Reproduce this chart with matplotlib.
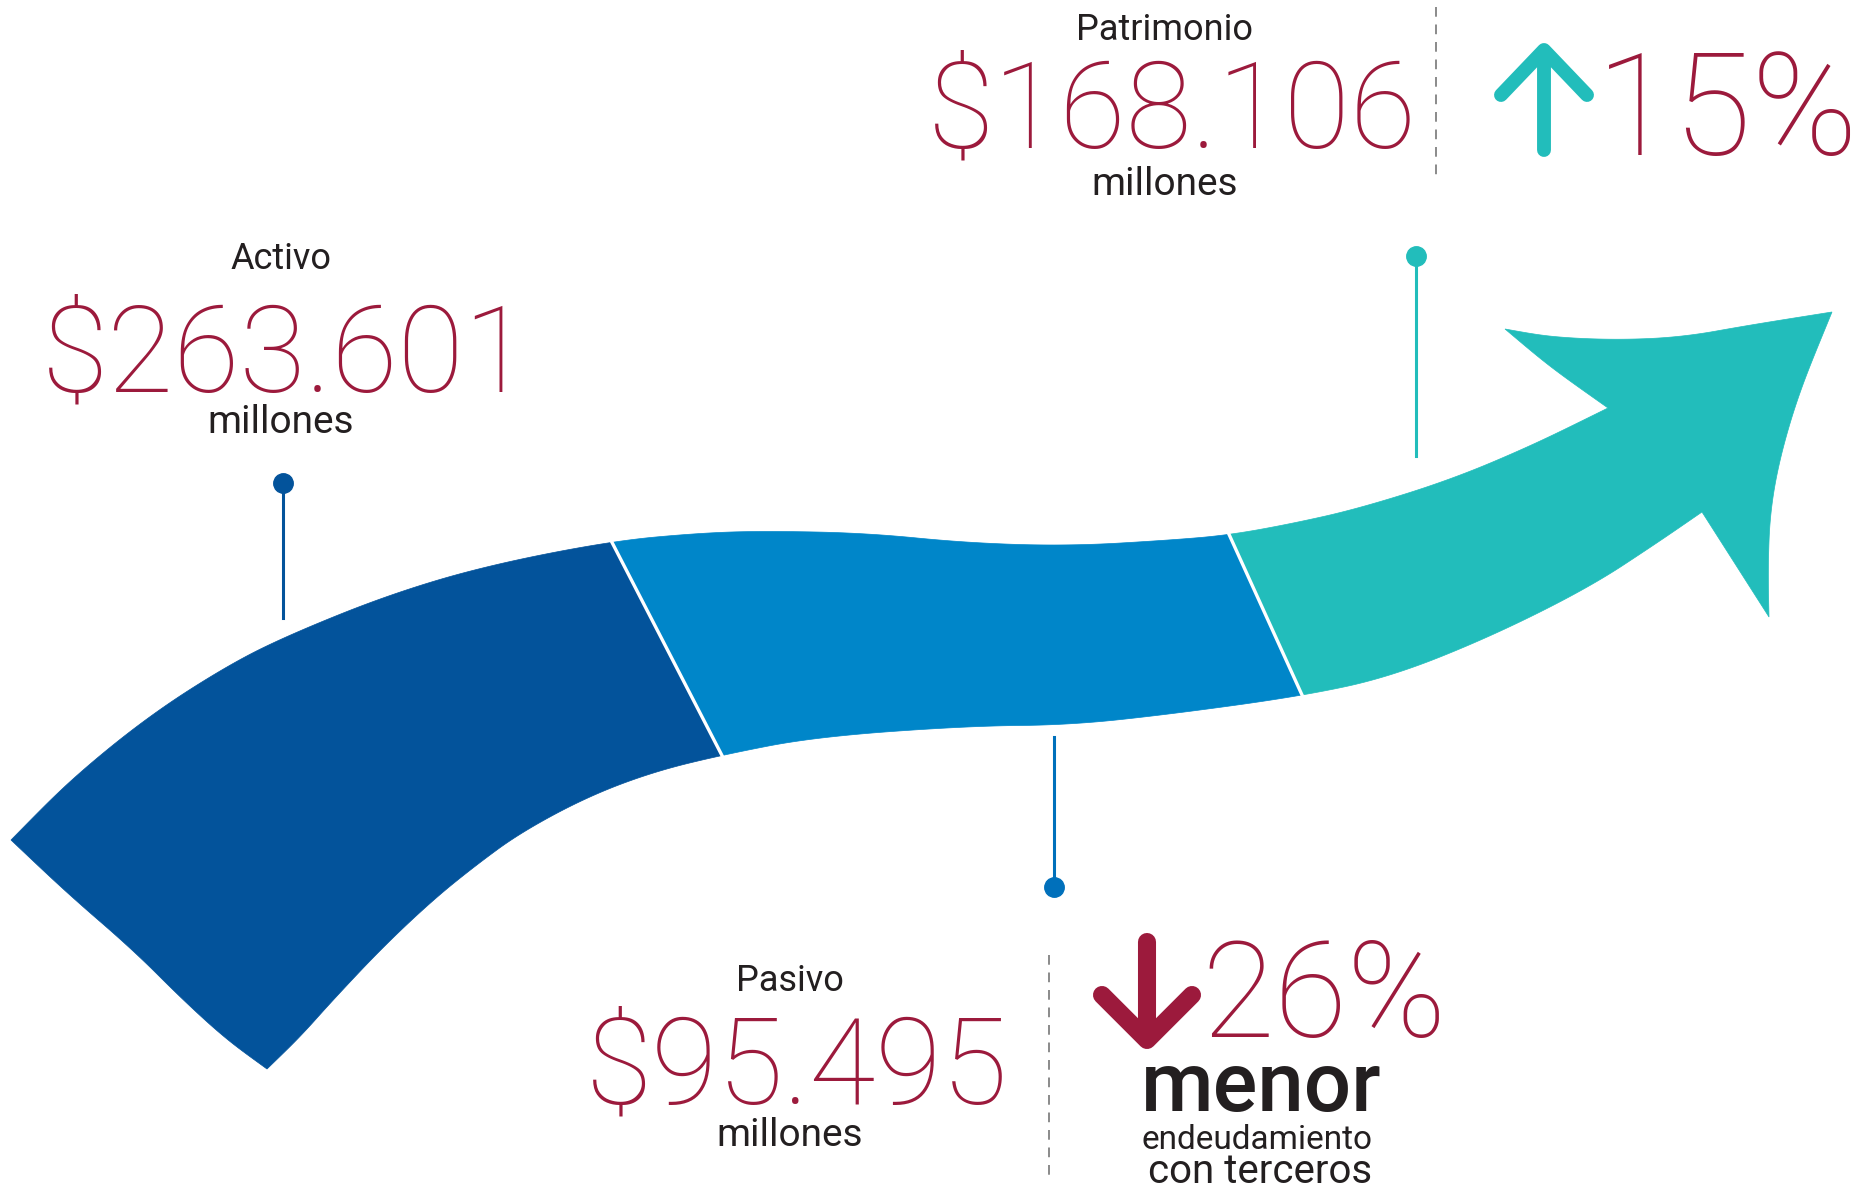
import numpy as np
import matplotlib
matplotlib.use("Agg")
import matplotlib.pyplot as plt
from matplotlib.patches import Polygon

# --- datos ---
etiquetas = ["Activo", "Pasivo", "Patrimonio"]
montos = ["$263.601", "$95.495", "$168.106"]
unidad = "millones"
variaciones = ["15%", "26%"]
nota_pasivo = ["menor", "endeudamiento", "con terceros"]

AZUL_OSC = "#03539b"
AZUL = "#0086c9"
TEAL = "#22bdbb"
VINO = "#9c1a3c"
TEXTO = "#231f20"
GRIS = "#8a8a8a"

W, H = 1873, 1191

# contorno de la cinta (pixeles de la imagen)
borde_sup = [(11, 840), (70, 780), (150, 715), (230, 664), (291, 634), (388, 595), (485, 566),
             (612, 541), (700, 533), (764, 531), (866, 533), (968, 543), (1070, 546),
             (1172, 540), (1229, 535), (1290, 524), (1357, 509), (1450, 480), (1533, 445),
             (1608, 408)]
borde_inf = [(267, 1069), (300, 1037), (333, 1000), (383, 947), (433, 900), (475, 866),
             (520, 833), (587, 797), (653, 772), (722, 755), (815, 737), (968, 726),
             (1070, 725), (1172, 714), (1302, 696), (1390, 677), (1490, 637), (1590, 587),
             (1657, 543), (1702, 512)]
tapa = [(267, 1069), (227, 1040), (183, 1000), (133, 950), (67, 893), (11, 840)]
punta = [(1608, 408), (1550, 367), (1505, 329)]
punta_sup = [(1505, 329), (1550, 337), (1617, 340), (1683, 337), (1750, 325), (1832, 312)]
punta_der = [(1832, 312), (1800, 390), (1780, 457), (1770, 513), (1768, 570), (1769, 617)]
cortes = [(612, 722), (1229, 1302)]   # x del corte arriba / abajo


def suave(pts, it=5):
    p = np.asarray(pts, float)
    for _ in range(it):
        q = 0.75 * p[:-1] + 0.25 * p[1:]
        r = 0.25 * p[:-1] + 0.75 * p[1:]
        nuevo = np.empty((2 * len(q), 2))
        nuevo[0::2], nuevo[1::2] = q, r
        p = np.vstack([p[:1], nuevo[1:-1], p[-1:]])
    return p


def tramo(c, x0, x1):
    m = (c[:, 0] > x0) & (c[:, 0] < x1)
    ini = [[x0, np.interp(x0, c[:, 0], c[:, 1])]] if x0 > c[0, 0] else [c[0]]
    fin = [[x1, np.interp(x1, c[:, 0], c[:, 1])]] if x1 < c[-1, 0] else [c[-1]]
    return np.vstack([ini, c[m], fin])


fig = plt.figure(figsize=(W / 100, H / 100), dpi=100)
ax = fig.add_axes([0, 0, 1, 1])
ax.set_xlim(0, W)
ax.set_ylim(H, 0)
ax.axis("off")

sup = suave(borde_sup)
inf = suave(borde_inf)
(a1, b1), (a2, b2) = cortes

tramo1 = np.vstack([tramo(sup, 0, a1), tramo(inf, 0, b1)[::-1], suave(tapa)])
tramo2 = np.vstack([tramo(sup, a1, a2), tramo(inf, b1, b2)[::-1]])
tramo3 = np.vstack([tramo(sup, a2, W), suave(punta), suave(punta_sup, 4),
                    suave(punta_der, 4), tramo(inf, b2, W)[::-1]])

for poly, col in [(tramo1, AZUL_OSC), (tramo2, AZUL), (tramo3, TEAL)]:
    ax.add_patch(Polygon(poly, closed=True, facecolor=col, edgecolor=col, lw=0.5))

for a, b in cortes:
    p = np.array([a, np.interp(a, sup[:, 0], sup[:, 1])])
    q = np.array([b, np.interp(b, inf[:, 0], inf[:, 1])])
    d = (q - p) / np.linalg.norm(q - p)
    p, q = p - d * 6, q + d * 6
    ax.plot([p[0], q[0]], [p[1], q[1]], color="white", lw=2.4, solid_capstyle="butt")

# llamadas
ax.plot([283, 283], [483, 618], color=AZUL_OSC, lw=2.2)
ax.plot(283, 483, "o", color=AZUL_OSC, ms=14)
ax.plot([1416, 1416], [256, 456], color=TEAL, lw=2.2)
ax.plot(1416, 256, "o", color=TEAL, ms=14)
ax.plot([1054, 1054], [737, 887], color="#0070bb", lw=2.2)
ax.plot(1054, 887, "o", color="#0070bb", ms=14)

# separadores punteados
ax.plot([1436, 1436], [7, 182], color=GRIS, lw=1.4, ls=(0, (5, 4)))
ax.plot([1049, 1049], [955, 1175], color=GRIS, lw=1.4, ls=(0, (5, 4)))

# flechas de variacion
ax.plot([1544, 1544], [150, 52], color=TEAL, lw=10, solid_capstyle="round")
ax.plot([1501, 1544, 1587], [95, 50, 95], color=TEAL, lw=10,
        solid_capstyle="round", solid_joinstyle="round")
ax.plot([1147, 1147], [942, 1036], color=VINO, lw=13, solid_capstyle="round")
ax.plot([1102, 1147, 1192], [995, 1040, 995], color=VINO, lw=13,
        solid_capstyle="round", solid_joinstyle="round")

FAM = ["Roboto", "DejaVu Sans"]
lbl = dict(family=FAM, color=TEXTO, ha="center", va="baseline")
big = dict(family=FAM, color=VINO, ha="center", va="baseline", weight="light")

bloques = [  # (x etiqueta, base etiqueta, x monto, base monto, base unidad)
    (281, 269, 286, 391, 433),
    (790, 991, 797, 1104, 1146),
    (1165, 40, 1172, 148, 195),
]
for k, (xl, yl, xm, ym, yu) in enumerate(bloques):
    ax.text(xl, yl, etiquetas[k], fontsize=26, **lbl)
    ax.text(xm, ym, montos[k], fontsize=87, **big)
    ax.text(xl, yu, unidad, fontsize=28, **lbl)

ax.text(1596, 155, variaciones[0], fontsize=103, family=FAM, color=VINO,
        weight="light", ha="left", va="baseline")
ax.text(1201, 1037, variaciones[1], fontsize=96, family=FAM, color=VINO,
        weight="light", ha="left", va="baseline")

ax.text(1261, 1111, nota_pasivo[0], fontsize=60, weight="medium", **lbl)
ax.text(1257, 1149, nota_pasivo[1], fontsize=24, **lbl)
ax.text(1260, 1183, nota_pasivo[2], fontsize=29, **lbl)

fig.savefig("out.png", dpi=100, facecolor="white")
